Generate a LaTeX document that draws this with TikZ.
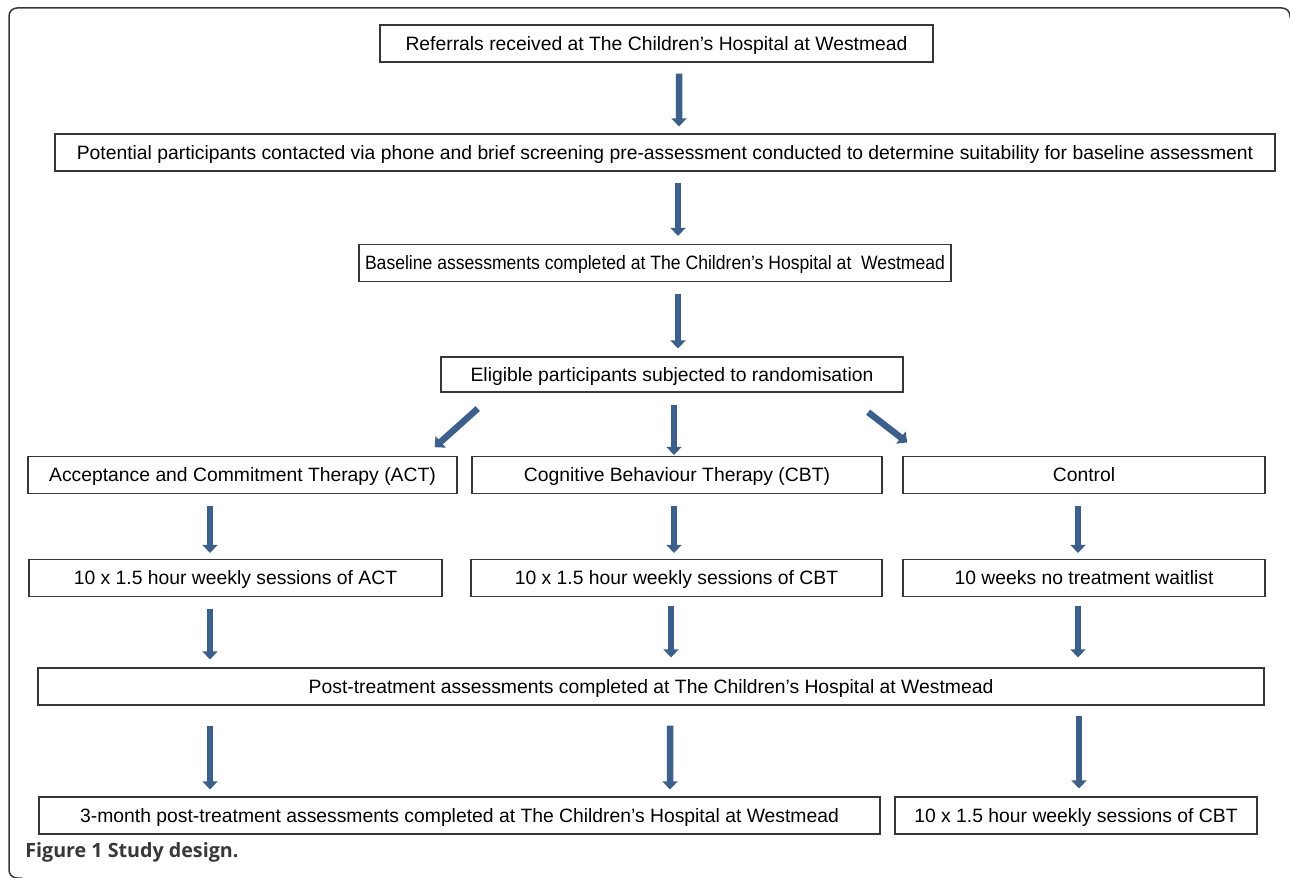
\documentclass[tikz,border=0pt]{standalone}
\usepackage{fontspec}
\setmainfont{Liberation Sans}
\newfontfamily\narrowfont[FakeStretch=0.91]{Liberation Sans}
\newfontfamily\capfont{Open Sans}
\usetikzlibrary{arrows.meta}

% one pixel of the figure
\newlength\px
\setlength\px{0.02cm}

\definecolor{arrowblue}{RGB}{61,95,140}
\definecolor{boxline}{RGB}{55,55,55}
\definecolor{framegray}{RGB}{55,55,55}

\tikzset{
    stage/.style={draw=boxline, line width=1.2\px, minimum height=37\px, inner sep=0pt,
        text height=7.9pt, text depth=0pt, font=\fontsize{11}{13}\selectfont},
    flow/.style={draw=arrowblue, line width=6.5\px, -{Triangle[width=0.3cm,length=0.16cm]}},
}

\begin{document}
\begin{tikzpicture}[x=0.02cm, y=-0.02cm]
    \useasboundingbox (0,0) rectangle (1290,878);

    % Outer frame of the figure (right and bottom sides fall off the page)
    \draw[framegray, line width=1.5\px, rounded corners=8\px] (1290,18) -- (1290,8) -- (9,8) -- (9,878) -- (22,878);

    % Stages of the study, top to bottom
    \node[stage, minimum width=553\px] (referral) at (656.5,43.5) {Referrals received at The Children’s Hospital at Westmead};
    \node[stage, minimum width=1220\px] (contact) at (665,152.5) {Potential participants contacted via phone and brief screening pre-assessment conducted to determine suitability for baseline assessment};
    \node[stage, minimum width=592\px, font=\narrowfont\fontsize{11}{13}\selectfont] (baseline) at (655,263) {Baseline assessments completed at The Children’s Hospital at \ Westmead};
    \node[stage, minimum width=462\px, minimum height=35\px] (random) at (672,374.5) {Eligible participants subjected to randomisation};

    % The three arms
    \node[stage, minimum width=429\px] (act) at (242.5,475) {Acceptance and Commitment Therapy (ACT)};
    \node[stage, minimum width=410\px] (cbt) at (677,475) {Cognitive Behaviour Therapy (CBT)};
    \node[stage, minimum width=362\px] (control) at (1084,475) {Control};

    \node[stage, minimum width=413\px] (actweeks) at (235.5,578) {10 x 1.5 hour weekly sessions of ACT};
    \node[stage, minimum width=411\px] (cbtweeks) at (676.5,578) {10 x 1.5 hour weekly sessions of CBT};
    \node[stage, minimum width=362\px] (waitlist) at (1084,578) {10 weeks no treatment waitlist};

    % Assessments after treatment
    \node[stage, minimum width=1226\px] (post) at (651,686.5) {Post-treatment assessments completed at The Children’s Hospital at Westmead};
    \node[stage, minimum width=841\px] (followup) at (459.5,815.5) {3-month post-treatment assessments completed at The Children’s Hospital at Westmead};
    \node[stage, minimum width=362\px] (lateweeks) at (1076,815.5) {10 x 1.5 hour weekly sessions of CBT};

    % Arrows between the stages
    \draw[flow, shorten <=11\px, shorten >=7\px] ([xshift=22.5\px]referral.south) -- ([xshift=14\px]contact.north);
    \draw[flow, shorten <=11\px, shorten >=8\px] ([xshift=13\px]contact.south) -- ([xshift=23\px]baseline.north);
    \draw[flow, shorten <=12\px, shorten >=8\px] ([xshift=23\px]baseline.south) -- ([xshift=6\px]random.north);

    % Randomisation into the arms
    \draw[flow, shorten <=24\px, shorten >=13\px] ([xshift=-176.4\px]random.south) -- ([xshift=182.5\px]act.north);
    \draw[flow, shorten <=12\px, shorten >=1\px] ([xshift=2\px]random.south) -- ([xshift=-3\px]cbt.north);
    \draw[flow, shorten <=32\px, shorten >=22\px] ([xshift=170.8\px]random.south) -- ([xshift=-159.4\px]control.north);

    \draw[flow, shorten <=12\px, shorten >=6\px] ([xshift=-32.5\px]act.south) -- ([xshift=-25.5\px]actweeks.north);
    \draw[flow, shorten <=12\px, shorten >=6\px] ([xshift=-3\px]cbt.south) -- ([xshift=-2.5\px]cbtweeks.north);
    \draw[flow, shorten <=12\px, shorten >=6\px] ([xshift=-6\px]control.south) -- ([xshift=-6\px]waitlist.north);

    \draw[flow, shorten <=12\px, shorten >=8\px] ([xshift=-25.5\px]actweeks.south) -- ([xshift=-441\px]post.north);
    \draw[flow, shorten <=9\px, shorten >=10\px] ([xshift=-5.5\px]cbtweeks.south) -- ([xshift=20\px]post.north);
    \draw[flow, shorten <=9\px, shorten >=10\px] ([xshift=-6\px]waitlist.south) -- ([xshift=427\px]post.north);

    \draw[flow, shorten <=20\px, shorten >=7\px] ([xshift=-441\px]post.south) -- ([xshift=-249.5\px]followup.north);
    \draw[flow, shorten <=20\px, shorten >=7\px] ([xshift=19\px]post.south) -- ([xshift=210.5\px]followup.north);
    \draw[flow, shorten <=10\px, shorten >=8\px] ([xshift=428\px]post.south) -- ([xshift=3\px]lateweeks.north);

    % Caption
    \node[anchor=base west, inner sep=0pt, text=framegray, font=\capfont\bfseries\fontsize{11.2}{13}\selectfont] (caption) at (25,857) {Figure 1 Study design.};
\end{tikzpicture}
\end{document}
